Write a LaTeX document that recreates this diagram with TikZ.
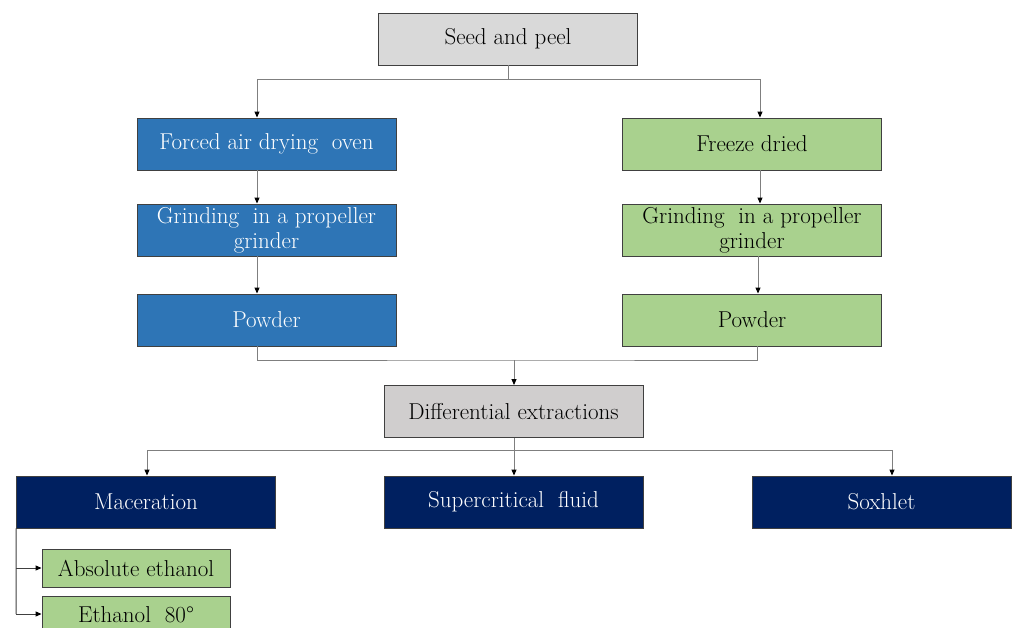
\documentclass[tikz,border=0pt]{standalone}
\usetikzlibrary{arrows.meta}
\definecolor{graybox}{HTML}{D9D9D9}
\definecolor{graybox2}{HTML}{D0CECE}
\definecolor{bluebox}{HTML}{2E75B6}
\definecolor{greenbox}{HTML}{A9D18E}
\definecolor{navybox}{HTML}{002060}
\definecolor{edge}{HTML}{404040}
\definecolor{conn}{HTML}{7F7F7F}
\begin{document}
\begin{tikzpicture}[x=1pt,y=-1pt,
  box/.style={draw=edge,line width=0.9pt,minimum width=259pt,minimum height=52pt,inner sep=0pt,
    align=center,font=\fontsize{23}{25}\selectfont},
  gbox/.style={box,fill=graybox,text=black},
  bbox/.style={box,fill=bluebox,text=white},
  grbox/.style={box,fill=greenbox,text=black},
  nbox/.style={box,fill=navybox,text=white},
  sbox/.style={box,fill=greenbox,text=black,minimum width=188pt,minimum height=38pt},
  line/.style={draw=conn,line width=1pt},
  arr/.style={line,-{Triangle[length=6pt,width=5pt,color=black]}}]
\useasboundingbox (0,0) rectangle (1014,627);
\node[gbox] (seed) at (508,39) {Seed and peel};
\node[bbox] (l1) at (266.5,144) {Forced air drying\ \ oven};
\node[bbox] (l2) at (266.5,230) {Grinding\ \ in a propeller\\grinder};
\node[bbox] (l3) at (266.5,320) {Powder};
\node[grbox] (r1) at (752,144) {Freeze dried};
\node[grbox] (r2) at (752,230) {Grinding\ \ in a propeller\\grinder};
\node[grbox] (r3) at (752,320) {Powder};
\node[gbox,fill=graybox2] (diff) at (513.5,411.5) {Differential extractions};
\node[nbox] (mac) at (146,502) {Maceration};
\node[nbox] (sup) at (513.5,502) {Supercritical\ \ fluid};
\node[nbox] (sox) at (881.5,502) {Soxhlet};
\node[sbox] (abs) at (136,568) {Absolute ethanol};
\node[sbox] (eth) at (136,615) {Ethanol\ \ 80°};
\coordinate (j1) at (508,79);
\coordinate (j2) at (514,360);
\coordinate (j3) at (514,450);
% top split
\draw[line] (seed.south) -- (j1);
\draw[line] (257,79) -- (760,79);
\draw[arr] (257,79) -- (l1.north -| 257,0);
\draw[arr] (760,79) -- (r1.north -| 760,0);
% left chain
\draw[arr] (l1.south -| 257,0) -- (l2.north -| 257,0);
\draw[arr] (l2.south -| 257,0) -- (l3.north -| 257,0);
% right chain
\draw[arr] (r1.south -| 760,0) -- (r2.north -| 760,0);
\draw[arr] (r2.south -| 758,0) -- (r3.north -| 758,0);
% merge
\draw[line] (l3.south -| 257,0) |- (j2) -| (r3.south -| 757,0);
\draw[arr] (j2) -- (diff.north -| j2);
% bottom split
\draw[line] (diff.south -| j3) -- (j3);
\draw[line] (147,450) -- (892,450);
\draw[arr] (147,450) -- (mac.north -| 147,0);
\draw[arr] (j3) -- (sup.north -| j3);
\draw[arr] (892,450) -- (sox.north -| 892,0);
% maceration sub-branches
\draw[line,draw=edge] (mac.south west) -- (16,614);
\draw[arr,draw=edge] (16,568) -- (abs.west);
\draw[arr,draw=edge] (16,614) -- (eth.west |- 0,614);
\end{tikzpicture}
\end{document}
